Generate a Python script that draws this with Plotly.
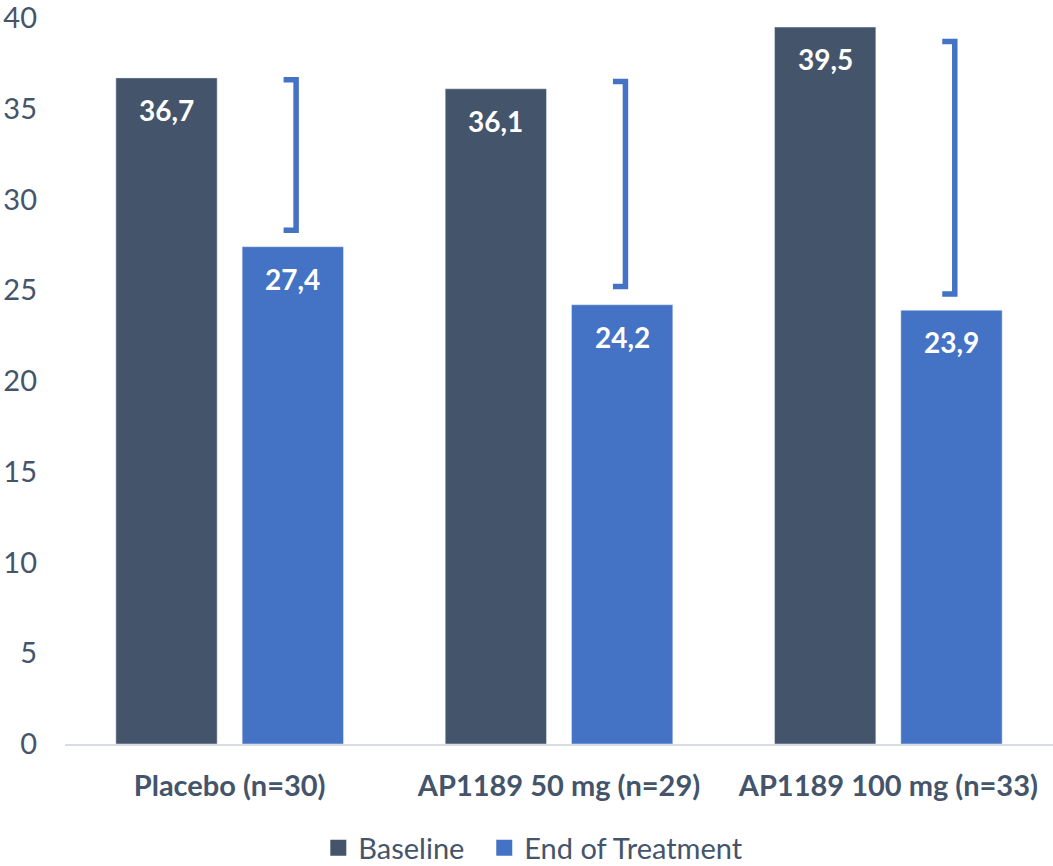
import plotly.graph_objects as go

# Mean scores per treatment arm
categories = ["Placebo (n=30)", "AP1189 50 mg (n=29)", "AP1189 100 mg (n=33)"]
baseline = [36.7, 36.1, 39.5]
end_of_treatment = [27.4, 24.2, 23.9]

# Change brackets (upper and lower ends, in axis units)
bracket_top = [36.6, 36.5, 38.7]
bracket_bottom = [28.3, 25.2, 24.8]

y_ticks = [0, 5, 10, 15, 20, 25, 30, 35, 40]

DARK = "#44546A"
BLUE = "#4472C4"
TEXT = "#44546A"
FONT = "Lato"

BARGAP = 0.233
BARGROUPGAP = 0.198
slot = (1 - BARGAP) / 2  # width of one bar slot in category units

xs = list(range(len(categories)))

fig = go.Figure()
fig.add_trace(go.Bar(x=xs, y=baseline, name="Baseline", marker_color=DARK,
                     showlegend=False))
fig.add_trace(go.Bar(x=xs, y=end_of_treatment, name="End of Treatment",
                     marker_color=BLUE, showlegend=False))

# Legend proxies with larger square swatches (padding widens the first entry)
NBSP = "\u00a0"
for name, col in [("Baseline" + NBSP * 2, DARK), ("End of Treatment", BLUE)]:
    fig.add_trace(go.Scatter(x=[None], y=[None], mode="markers", name=name,
                             marker=dict(symbol="square", size=16, color=col)))

def fmt(v):
    return f"{v:.1f}".replace(".", ",")

# Value labels inside the top of each bar
for i in xs:
    for v, off in [(baseline[i], -slot / 2), (end_of_treatment[i], slot / 2)]:
        fig.add_annotation(x=i + off, y=v, text=fmt(v), showarrow=False,
                           yanchor="middle", yshift=-32,
                           font=dict(family=FONT, size=28, color="white",
                                     weight="bold"))

# Brackets showing the change from baseline
for i in xs:
    xc = i + slot / 2
    x0 = xc - 0.028
    x1 = xc + 0.01
    yt, yb = bracket_top[i], bracket_bottom[i]
    fig.add_shape(type="path",
                  path=f"M {x0},{yt} L {x1},{yt} L {x1},{yb} L {x0},{yb}",
                  line=dict(color=BLUE, width=5.5), xref="x", yref="y")

fig.update_layout(
    width=1053, height=866,
    margin=dict(l=65, r=0, t=18, b=122, autoexpand=False),
    plot_bgcolor="white", paper_bgcolor="white",
    barmode="group", bargap=BARGAP, bargroupgap=BARGROUPGAP,
    font=dict(family=FONT, color=TEXT),
    legend=dict(orientation="h", x=0.474, xanchor="center", y=-0.143,
                yanchor="middle", font=dict(family=FONT, size=29, color=TEXT),
                itemsizing="trace"),
)
fig.update_xaxes(range=[-0.5, 2.5], tickvals=xs, ticktext=categories,
                 tickfont=dict(family=FONT, size=29, color=TEXT, weight="bold"),
                 showline=True, linecolor="#D9DDE3", linewidth=2,
                 showgrid=False, zeroline=False, ticks="", ticklabelstandoff=15,
                 automargin=False)
fig.update_yaxes(range=[0, 40], tickvals=y_ticks,
                 tickfont=dict(family=FONT, size=29, color=TEXT),
                 showgrid=False, zeroline=False, showline=False, ticks="",
                 ticklabelstandoff=27, ticklabeloverflow="allow",
                 automargin=False)

fig.write_html("out.html")
